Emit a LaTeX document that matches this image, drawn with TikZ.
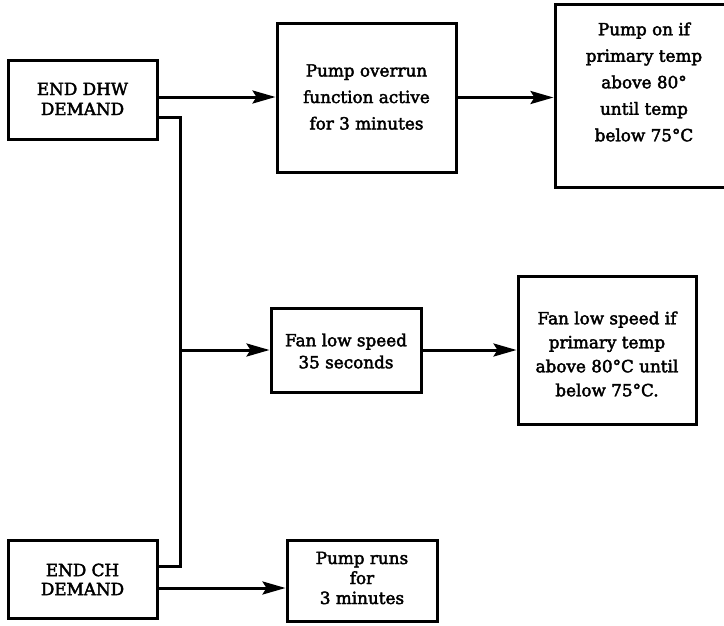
\documentclass[tikz,border=0pt]{standalone}
\usepackage{fontspec}
\newfontfamily\lblfont{DejaVu Serif}[FakeBold=2.5]
\usetikzlibrary{arrows.meta}
\tikzset{
  boxnode/.style={draw, rectangle, inner sep=0pt, line width=3pt},
  txt/.style={align=center, inner sep=0pt, font=\lblfont\fontsize{16.8}{#1}\selectfont},
  arr/.style={-{Stealth[length=23pt,width=13pt,inset=4pt]}, line width=3pt},
  conn/.style={line width=3pt},
}
\begin{document}
\begin{tikzpicture}[x=1pt,y=-1pt]
\useasboundingbox (0,0) rectangle (724,625);
% boxes
\node[boxnode, minimum width=149pt, minimum height=79pt] (dhw) at (82.5,99.5) {};
\node[boxnode, minimum width=179pt, minimum height=149pt] (overrun) at (366.5,97.5) {};
\node[boxnode, minimum width=178pt, minimum height=183pt] (pumpon) at (644,95.5) {};
\node[boxnode, minimum width=150pt, minimum height=84pt] (fan) at (346,350) {};
\node[boxnode, minimum width=178pt, minimum height=148pt] (fanif) at (607,350) {};
\node[boxnode, minimum width=149pt, minimum height=78pt] (ch) at (82.5,579) {};
\node[boxnode, minimum width=150pt, minimum height=81pt] (runs) at (362,580.5) {};
% texts
\node[txt=20pt] (dhwt) at (82.5,99) {END DHW\\DEMAND};
\node[txt=26.5pt] (overrunt) at (366.5,97) {Pump overrun\\function active\\for 3 minutes};
\node[txt=26.5pt] (pumpont) at (644,82) {Pump on if\\primary temp\\above 80°\\ until temp\\below 75°C};
\node[txt=22pt] (fant) at (346,351) {Fan low speed\\35 seconds};
\node[txt=24pt] (fanift) at (607,354) {Fan low speed if\\primary temp\\above 80°C until\\below 75°C.};
\node[txt=19pt] (cht) at (82.5,579.5) {END CH\\DEMAND};
\node[txt=20pt] (runst) at (362,578) {Pump runs\\for\\3 minutes};
% junction coordinates
\path ([yshift=2.5pt]dhw.east) coordinate (dhwa);
\path ([yshift=-17.5pt]dhw.east) coordinate (dhwb);
\path ([yshift=13pt]ch.east) coordinate (chin);
\path ([yshift=-9pt]ch.east) coordinate (chout);
\coordinate (j1) at (180,117);
\coordinate (j2) at (180,566);
\coordinate (jf) at (180,350);
% connectors
\draw[arr] (dhwa) -- (dhwa -| overrun.west);
\draw[arr] (overrun.east) -- (overrun.east -| pumpon.west);
\draw[conn] (dhwb) -- (j1) -- (j2) -- (chin);
\draw[arr] (jf) -- (fan.west);
\draw[arr] (fan.east) -- (fan.east -| fanif.west);
\draw[arr] (chout) -- (chout -| runs.west);
\end{tikzpicture}
\end{document}
